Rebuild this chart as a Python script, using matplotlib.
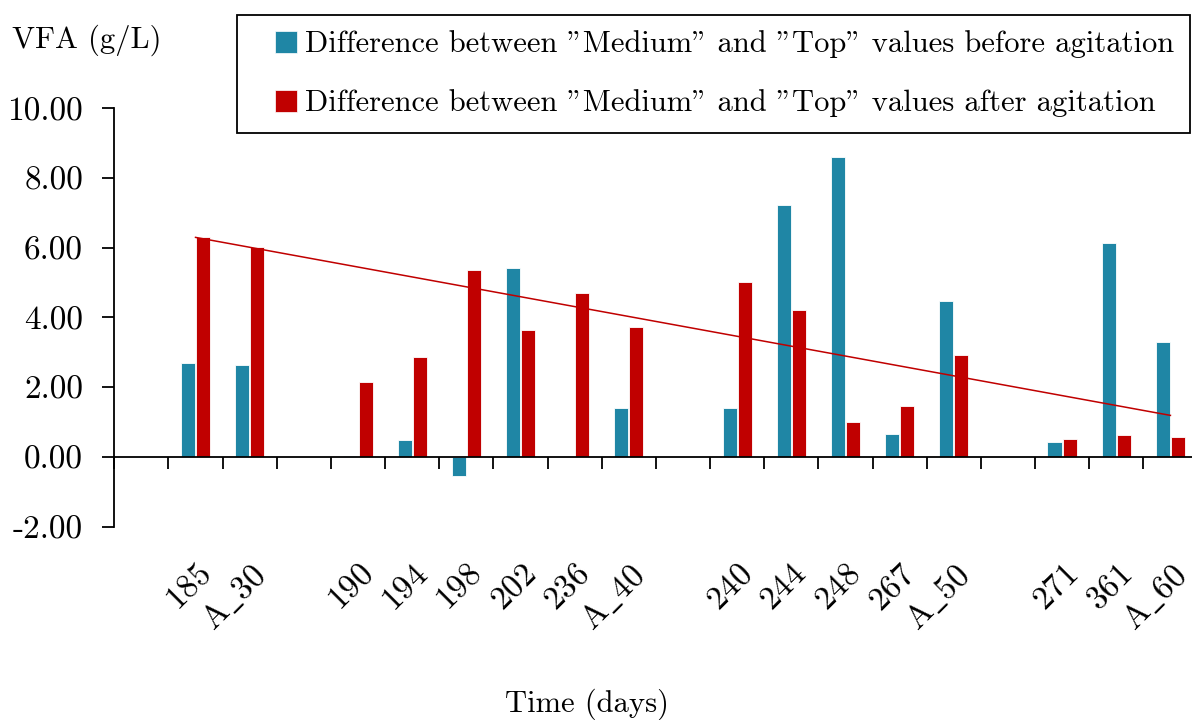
import numpy as np
import matplotlib
matplotlib.use("Agg")
import matplotlib.pyplot as plt
from matplotlib.patches import Rectangle, Patch
from matplotlib.legend_handler import HandlerPatch
from matplotlib.ticker import FixedLocator, NullFormatter
import matplotlib.transforms as mtransforms

plt.rcParams["font.family"] = "serif"
plt.rcParams["font.serif"] = ["cmr10"]
plt.rcParams["mathtext.fontset"] = "cm"
plt.rcParams["axes.formatter.use_mathtext"] = True
plt.rcParams["axes.unicode_minus"] = False

# Sampling days (empty strings are spacer slots between groups)
categories = ["", "185", "A_30", "", "190", "194", "198", "202", "236", "A_40",
              "", "240", "244", "248", "267", "A_50", "", "271", "361", "A_60"]

# Medium - Top differences (g/L); None where no value exists
before_agitation = [None, 2.70, 2.64, None, 0.02, 0.47, -0.55, 5.43, None, 1.40,
                    None, 1.40, 7.24, 8.61, 0.65, 4.47, None, 0.42, 6.15, 3.29]
after_agitation = [None, 6.30, 6.01, None, 2.14, 2.88, 5.35, 3.64, 4.70, 3.74,
                   None, 5.01, 4.21, 0.99, 1.45, 2.91, None, 0.50, 0.62, 0.57]

# Linear trend of the after-agitation differences (first and last day)
trend_days = ["185", "A_60"]
trend_values = [6.30, 1.19]

y_ticks = [-2, 0, 2, 4, 6, 8, 10]

BLUE = "#1f86a5"
RED = "#c00000"
FS = 22
TICK_FS = 24

def to_array(vals):
    return np.array([np.nan if v is None else v for v in vals], dtype=float)

fig = plt.figure(figsize=(11.92, 7.2), dpi=100)
W, H = 1192, 720
x_left, x_right = 114.3, 1197.5
y_top, y_bot = 108.5, 526.5
ax = fig.add_axes([x_left / W, 1 - y_bot / H, (x_right - x_left) / W, (y_bot - y_top) / H])

x = np.arange(len(categories))
bw = 0.26
off = 0.14
ax.bar(x - off, to_array(before_agitation), width=bw, color=BLUE,
       edgecolor="white", linewidth=0.6, zorder=2)
ax.bar(x + off, to_array(after_agitation), width=bw, color=RED,
       edgecolor="white", linewidth=0.6, zorder=2)

tx = [categories.index(d) for d in trend_days]
ax.plot(tx, trend_values, color=RED, linewidth=1.1, zorder=3)

ax.set_xlim(-0.5, len(categories) - 0.5)
ax.set_ylim(-2, 10)

# spines
for s in ("top", "right"):
    ax.spines[s].set_visible(False)
ax.spines["bottom"].set_position(("data", 0))
ax.spines["bottom"].set_linewidth(1.3)
ax.spines["left"].set_linewidth(1.3)
ax.spines["bottom"].set_zorder(4)

# y axis
ax.set_yticks(y_ticks)
ax.set_yticklabels([f"{v:.2f}" for v in y_ticks], fontsize=TICK_FS)
ax.tick_params(axis="y", direction="out", length=8.5, width=1.3, pad=14)

# x axis: boundary tick marks, labels at slot centres
ax.xaxis.set_minor_locator(FixedLocator(np.arange(len(categories) + 1) - 0.5))
ax.xaxis.set_minor_formatter(NullFormatter())
ax.tick_params(axis="x", which="minor", direction="out", length=8.5, width=1.3)
labelled = [i for i, c in enumerate(categories) if c]
ax.set_xticks(labelled)
ax.set_xticklabels([r"$\mathrm{" + categories[i].replace("_", r"\_") + "}$"
                    for i in labelled],
                   fontsize=TICK_FS, rotation=45, ha="right", va="top",
                   rotation_mode="anchor")
ax.tick_params(axis="x", which="major", length=0, pad=74)
shift = mtransforms.ScaledTranslation(0.5 / 100, 0, fig.dpi_scale_trans)
for lbl in ax.get_xticklabels():
    lbl.set_transform(lbl.get_transform() + shift)

fig.text(12 / W, 1 - 40 / H, "VFA (g/L)", fontsize=FS, ha="left", va="center")
fig.text(587 / W, 1 - 704 / H, "Time (days)", fontsize=FS, ha="center", va="center")


class RightSquare(HandlerPatch):
    def __init__(self, size):
        super().__init__()
        self.size = size

    def create_artists(self, legend, orig_handle, xdescent, ydescent,
                       width, height, fontsize, trans):
        s = self.size * fontsize
        p = Rectangle((-xdescent + width - s, -ydescent + (height - s) / 2), s, s,
                      facecolor=orig_handle.get_facecolor(), edgecolor="white",
                      linewidth=0.5, transform=trans)
        return [p]


handles = [Patch(facecolor=BLUE), Patch(facecolor=RED)]
labels = ['Difference between "Medium" and "Top" values before agitation',
          'Difference between "Medium" and "Top" values after agitation']
leg = fig.legend(handles, labels, loc="upper left",
                 bbox_to_anchor=(237 / W, 1 - 15 / H), bbox_transform=fig.transFigure,
                 borderaxespad=0, fontsize=FS, frameon=True, fancybox=False,
                 edgecolor="black", framealpha=1, borderpad=0.5,
                 handlelength=1.47, handleheight=0.72, handletextpad=0.26,
                 labelspacing=1.02,
                 handler_map={Patch: RightSquare(0.72)})
leg.get_frame().set_linewidth(1.3)

fig.savefig("out.png", dpi=100)
